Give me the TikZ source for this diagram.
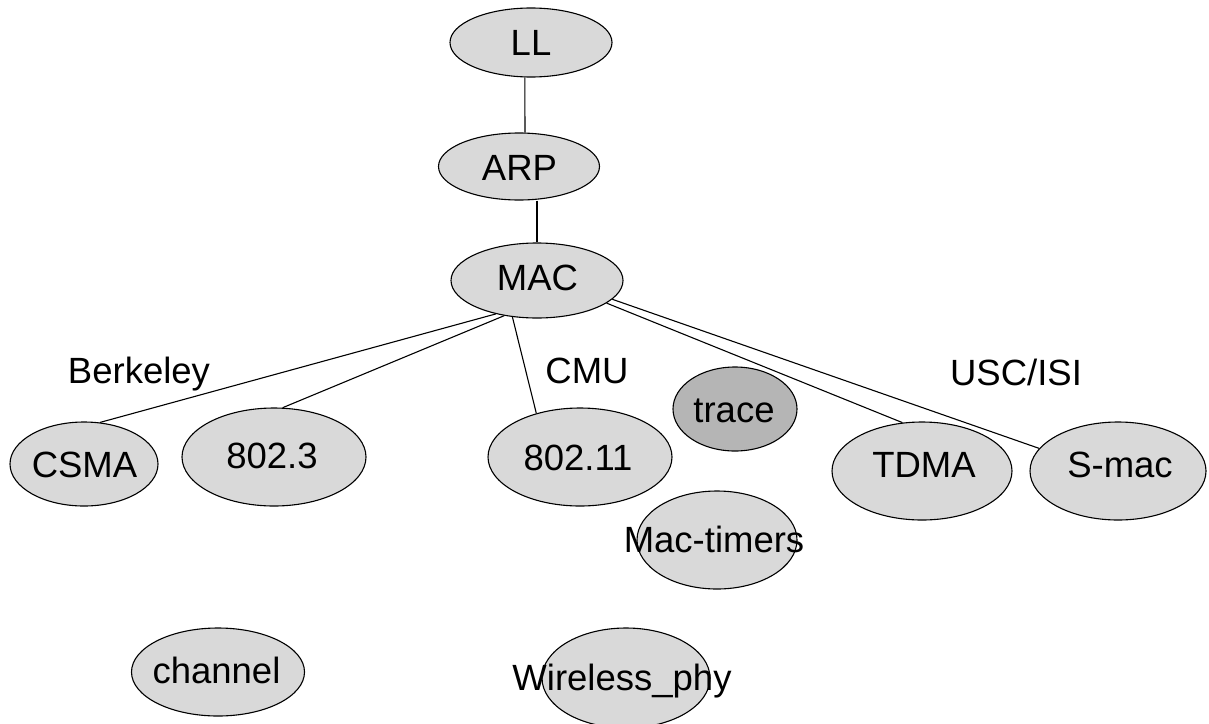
\documentclass[tikz,border=0pt]{standalone}
\usepackage{fontspec}
\setmainfont{Liberation Sans}
\usetikzlibrary{shapes.geometric}
\definecolor{blobfill}{RGB}{217,217,217}
\definecolor{tracefill}{RGB}{181,181,181}
\begin{document}
\begin{tikzpicture}[x=1pt,y=-1pt,
  blob/.style={ellipse, draw=black, line width=1.1pt, fill=blobfill, inner sep=0pt},
  word/.style={anchor=base, inner sep=0pt, font=\fontsize{36.5}{40}\selectfont},
  link/.style={draw=black, line width=1.1pt}]
\useasboundingbox (0,0) rectangle (1209,723);
\fill[white] (0,0) rectangle (1209,723);

% protocol stack
\node[blob, minimum width=162, minimum height=69] (LL)  at (531,42.5) {};
\node[blob, minimum width=161, minimum height=67] (ARP) at (519,166.5) {};
\node[blob, minimum width=172, minimum height=75] (MAC) at (537,280.5) {};

% MAC variants
\node[blob, minimum width=148, minimum height=84] (CSMA)   at (84,464) {};
\node[blob, minimum width=184, minimum height=98] (N8023)  at (274,457) {};
\node[blob, minimum width=184, minimum height=98] (N80211) at (580,457) {};
\node[blob, fill=tracefill, minimum width=124, minimum height=84] (TRACE) at (735,409) {};
\node[blob, minimum width=180, minimum height=98] (TDMA)   at (922,471) {};
\node[blob, minimum width=176, minimum height=98] (SMAC)   at (1118,471) {};
\node[blob, minimum width=160, minimum height=98] (TIMERS) at (717,540) {};

% physical layer
\node[blob, minimum width=173, minimum height=88]  (CHAN) at (218,672) {};
\node[blob, minimum width=168, minimum height=100] (PHY)  at (626,678) {};

% node texts
\node[word] (LLt)     at (531,55)    {LL};
\node[word] (ARPt)    at (519.5,180) {ARP};
\node[word] (MACt)    at (537.5,290) {MAC};
\node[word] (CSMAt)   at (84.5,477)  {CSMA};
\node[word] (N8023t)  at (272,468)   {802.3};
\node[word] (N80211t) at (578,470)   {802.11};
\node[word] (TRACEt)  at (734,422)   {trace};
\node[word] (TDMAt)   at (924,477)   {TDMA};
\node[word] (SMACt)   at (1120,477)  {S-mac};
\node[word] (TIMERSt) at (714,552)   {Mac-timers};
\node[word] (CHANt)   at (216.5,683) {channel};
\node[word] (PHYt)    at (622,690)   {Wireless\_phy};

% group labels
\node[word] (berkeley) at (139,383)  {Berkeley};
\node[word] (cmu)      at (587,383)  {CMU};
\node[word] (usc)      at (1016,385) {USC/ISI};

% connectors
\draw[link] (LL.260) -- (ARP.80);
\draw[link] (ARP.south -| MAC.north) -- (MAC.north);
\draw[link] (MAC.219) -- (CSMA.69);
\draw[link] (MAC.227) -- (N8023.80);
\draw[link] (MAC.236) -- (N80211.135);
\draw[link] (MAC.342) -- (TDMA.112);
\draw[link] (MAC.346) -- (SMAC.164);
\end{tikzpicture}
\end{document}
